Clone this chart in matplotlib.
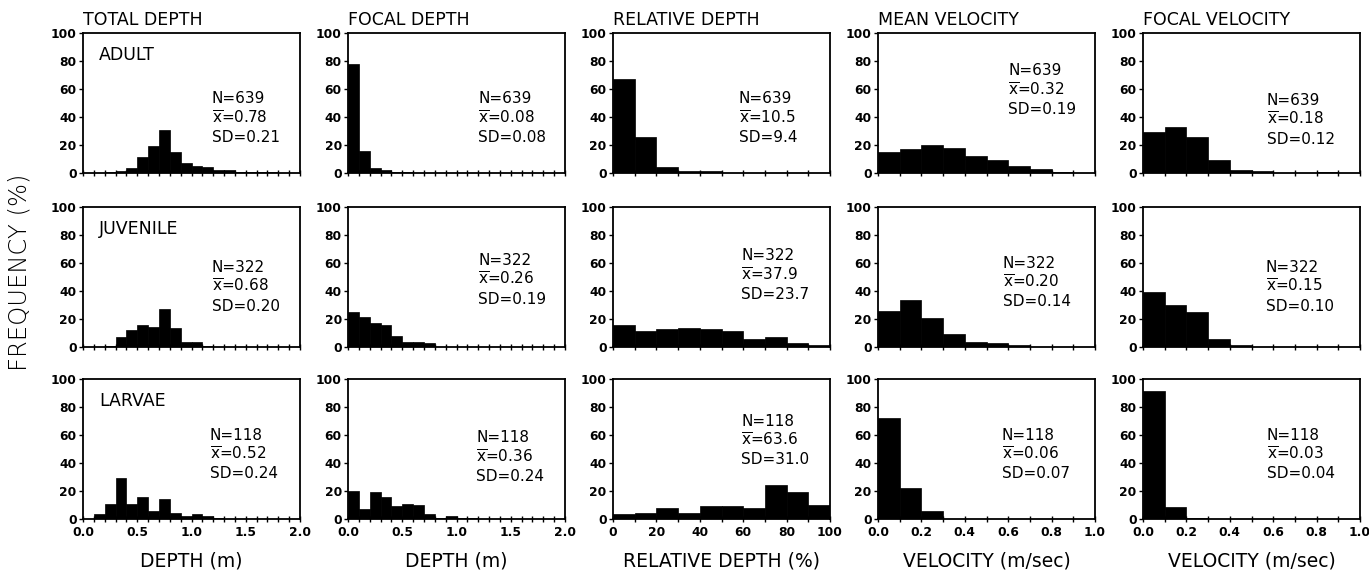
import numpy as np
import matplotlib
matplotlib.use("Agg")
import matplotlib.pyplot as plt
from matplotlib.ticker import MultipleLocator

# ─── DATA ─────────────────────────────────────────
stages = ["ADULT", "JUVENILE", "LARVAE"]
columns = ["TOTAL DEPTH", "FOCAL DEPTH", "RELATIVE DEPTH", "MEAN VELOCITY", "FOCAL VELOCITY"]
xlabels = ["DEPTH (m)", "DEPTH (m)", "RELATIVE DEPTH (%)", "VELOCITY (m/sec)", "VELOCITY (m/sec)"]

# bin widths and axis ranges per column
bin_width = [0.1, 0.1, 10, 0.1, 0.1]
x_max = [2.0, 2.0, 100, 1.0, 1.0]

# frequency (%) per bin, bins start at 0
total_depth = [
    [0, 0, 0.5, 1.5, 3.5, 11.5, 19, 31, 15, 7.5, 5, 4.5, 2, 2, 1, 1, 0.5, 0.5, 0, 0],
    [0, 0, 1, 7, 12, 16, 14, 27, 13.5, 3.5, 3.5, 1, 0, 0, 0, 0, 0, 0, 0, 0],
    [0, 3.5, 11, 29, 11, 16, 5.5, 14.5, 4, 2, 3.5, 2, 1, 0, 0, 0, 0, 0, 0, 0],
]
focal_depth = [
    [78, 16, 3.5, 2, 1, 0.5, 0, 0, 0, 0, 0, 0, 0, 0, 0, 0, 0, 0, 0, 0],
    [25, 21.5, 17, 15.5, 8, 3.7, 3.7, 3, 0, 0, 0, 0, 0, 0, 0, 0, 0, 0, 0, 0],
    [20, 7.5, 19, 16, 9.5, 10.5, 10, 3.5, 0.5, 2, 1, 1, 0, 0, 0, 0, 0, 0, 0, 0],
]
relative_depth = [
    [67, 25.5, 4.5, 1.5, 1.5, 0.3, 0.3, 0.3, 0.3, 0.3],
    [16, 11.5, 12.7, 13.7, 13.2, 11.5, 5.5, 7.2, 3, 1.5],
    [3.4, 4, 7.7, 4, 9.2, 9.6, 7.7, 24.5, 19.3, 10],
]
mean_velocity = [
    [15, 17, 20, 18, 12.5, 9.6, 5.3, 3, 1, 0.3],
    [26, 33.7, 21, 9.6, 3.6, 2.9, 1.7, 0, 0.3, 0.3],
    [72, 22, 6, 0, 0, 0, 0, 0, 0, 0],
]
focal_velocity = [
    [29, 33, 26, 9, 2.5, 1.2, 0.3, 0.3, 0.5, 0],
    [39, 30, 25, 5.6, 1.2, 0, 0, 0, 0, 0],
    [91.5, 8.3, 0.7, 0, 0, 0, 0, 0, 0, 0],
]
freqs = [total_depth, focal_depth, relative_depth, mean_velocity, focal_velocity]

n_fish = [639, 322, 118]
means = [
    ["0.78", "0.08", "10.5", "0.32", "0.18"],
    ["0.68", "0.26", "37.9", "0.20", "0.15"],
    ["0.52", "0.36", "63.6", "0.06", "0.03"],
]
sds = [
    ["0.21", "0.08", "9.4", "0.19", "0.12"],
    ["0.20", "0.19", "23.7", "0.14", "0.10"],
    ["0.24", "0.24", "31.0", "0.07", "0.04"],
]

# ─── LAYOUT ───────────────────────────────────────
W, H = 1369, 575
text_x = [[0.594, 0.60, 0.58, 0.60, 0.57],
          [0.594, 0.60, 0.59, 0.575, 0.565],
          [0.585, 0.59, 0.59, 0.57, 0.57]]
text_y = [[0.53, 0.53, 0.53, 0.73, 0.52],
          [0.57, 0.62, 0.65, 0.60, 0.57],
          [0.60, 0.58, 0.70, 0.60, 0.60]]
major_step = [0.5, 0.5, 20, 0.2, 0.2]
minor_step = [0.1, 0.1, 10, 0.1, 0.1]
tick_fmt = ["{:.1f}", "{:.1f}", "{:.0f}", "{:.1f}", "{:.1f}"]

plt.rcParams['mathtext.fontset'] = 'dejavusans'

fig = plt.figure(figsize=(W / 100, H / 100), dpi=100)

row_bottom_px = [173, 347, 519]
for r in range(3):
    for c in range(5):
        left = (83 + 265 * c) / W
        bottom = 1 - row_bottom_px[r] / H
        ax = fig.add_axes([left, bottom, 217 / W, 140 / H])

        vals = freqs[c][r]
        starts = np.arange(len(vals)) * bin_width[c]
        ax.bar(starts, vals, width=bin_width[c], align='edge',
               color='black', edgecolor='black', linewidth=0.5)

        ax.set_xlim(0, x_max[c])
        ax.set_ylim(0, 100)
        ax.set_yticks([0, 20, 40, 60, 80, 100])
        ax.xaxis.set_major_locator(MultipleLocator(major_step[c]))
        ax.xaxis.set_minor_locator(MultipleLocator(minor_step[c]))
        ax.tick_params(axis='y', direction='out', length=3, width=1, pad=1.5,
                       labelsize=8.8)
        ax.tick_params(axis='x', which='both', direction='inout', length=4,
                       width=1, pad=3, labelsize=8.8)
        for lab in ax.get_yticklabels():
            lab.set_fontweight('bold')
        if r == 2:
            ticks = np.arange(0, x_max[c] + 1e-9, major_step[c])
            ax.set_xticks(ticks)
            ax.set_xticklabels([tick_fmt[c].format(t) for t in ticks],
                               fontweight='bold', fontsize=8.8)
            ax.set_xlabel(xlabels[c], fontsize=13.5, labelpad=9)
        else:
            ax.set_xticklabels([])
        for sp in ax.spines.values():
            sp.set_linewidth(1.3)

        if r == 0:
            ax.text(0.0, 1.03, columns[c], transform=ax.transAxes,
                    fontsize=12.5, ha='left', va='bottom')
        if c == 0:
            ax.text(0.075, 0.84, stages[r], transform=ax.transAxes,
                    fontsize=12.5, ha='left', va='center')

        tx, ty = text_x[r][c], text_y[r][c]
        dy = 0.139
        ax.text(tx, ty, f"N={n_fish[r]}", transform=ax.transAxes,
                fontsize=11, ha='left', va='center')
        ax.text(tx, ty - dy, r"$\overline{\mathrm{x}}$" + f"={means[r][c]}",
                transform=ax.transAxes, fontsize=11, ha='left', va='center')
        ax.text(tx, ty - 2 * dy, f"SD={sds[r][c]}", transform=ax.transAxes,
                fontsize=11, ha='left', va='center')

fig.text(20 / W, 1 - 272 / H, "FREQUENCY (%)", rotation=90, fontsize=17.5,
         fontweight='light', ha='center', va='center')

fig.savefig("out.png", dpi=100)
